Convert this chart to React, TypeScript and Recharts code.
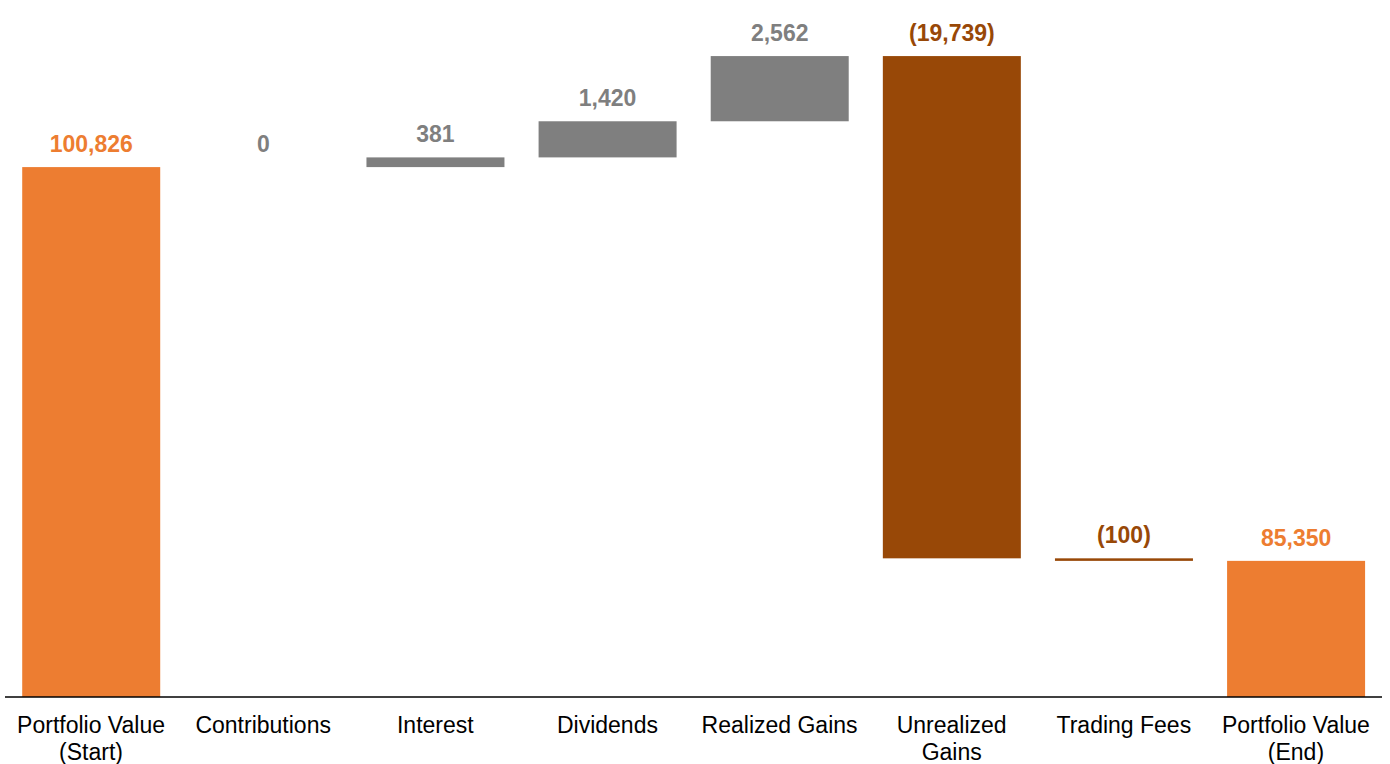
import { BarChart, Bar, XAxis, YAxis } from 'recharts';

const CATEGORIES = [
  'Portfolio Value\n(Start)',
  'Contributions',
  'Interest',
  'Dividends',
  'Realized Gains',
  'Unrealized\nGains',
  'Trading Fees',
  'Portfolio Value\n(End)',
];
const VALUES = [100826, 0, 381, 1420, 2562, -19739, -100, 85350];
const IS_TOTAL = [true, false, false, false, false, false, false, true];

const COLORS = {
  total: '#ED7D31',
  up: '#7F7F7F',
  down: '#984807',
};

const fmt = (v: number) => {
  const s = Math.abs(v).toLocaleString('en-US');
  return v < 0 ? `(${s})` : s;
};

let running = 0;
const data = CATEGORIES.map((name, i) => {
  const v = VALUES[i];
  let low: number;
  let high: number;
  if (IS_TOTAL[i]) {
    low = 0;
    high = v;
    running = v;
  } else {
    low = Math.min(running, running + v);
    high = Math.max(running, running + v);
    running += v;
  }
  const color = IS_TOTAL[i] ? COLORS.total : v < 0 ? COLORS.down : COLORS.up;
  return { name, range: [low, high], label: fmt(v), color };
});

const FONT = "'Liberation Sans', Arial, sans-serif";

function Tick({ x, y, payload }: any) {
  const lines = String(payload.value).split('\n');
  return (
    <text x={x} y={y} textAnchor="middle" fontFamily={FONT} fontSize={23} fill="#000">
      {lines.map((l, i) => (
        <tspan key={i} x={x} dy={i === 0 ? 36 : 27}>
          {l}
        </tspan>
      ))}
    </text>
  );
}

// draws the bar and its value label together so the zero-height bar still gets "0"
function WaterfallShape(props: any) {
  const { x, y, width, height, payload } = props;
  const top = Math.min(y, y + height);
  const h = Math.abs(height);
  return (
    <g>
      {h > 0 && <rect x={x} y={top} width={width} height={h} fill={payload.color} />}
      <text
        x={x + width / 2}
        y={top - 15}
        textAnchor="middle"
        fontFamily={FONT}
        fontSize={23}
        fontWeight="bold"
        fill={payload.color}
      >
        {payload.label}
      </text>
    </g>
  );
}

export default function App() {
  return (
    <div style={{ position: 'absolute', left: 0, top: 0, background: '#fff' }}>
      <BarChart
        width={1390}
        height={764}
        data={data}
        margin={{ top: 10, right: 8, left: 5, bottom: 0 }}
        barCategoryGap="10%"
      >
        <XAxis
          dataKey="name"
          interval={0}
          height={67}
          tickSize={0}
          tickMargin={0}
          tickLine={false}
          axisLine={{ stroke: '#000', strokeWidth: 1.5 }}
          tick={<Tick />}
        />
        <YAxis hide domain={[80000, 107000]} allowDataOverflow />
        <Bar dataKey="range" isAnimationActive={false} shape={<WaterfallShape />} />
      </BarChart>
    </div>
  );
}
